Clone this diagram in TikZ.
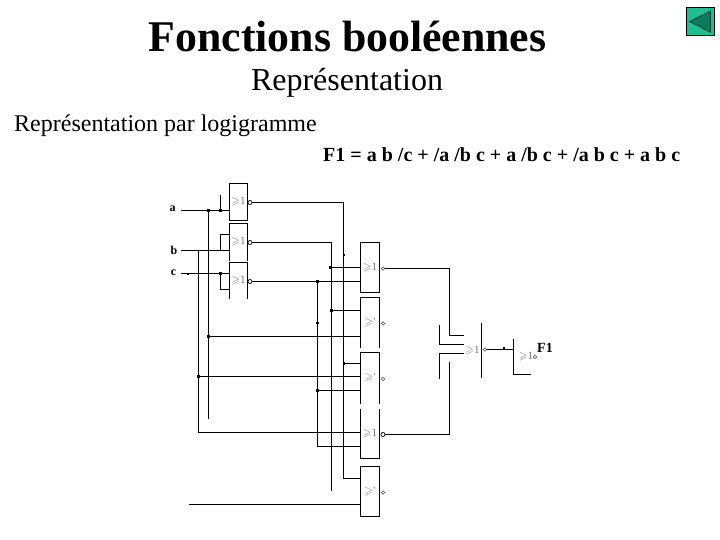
\documentclass[tikz,border=0pt]{standalone}
\usepackage{amssymb}
\usepackage{fontspec}
\setmainfont{Liberation Serif}
\definecolor{btnface}{RGB}{32,190,145}
\definecolor{btnarrow}{RGB}{12,122,92}
\definecolor{btnedge}{RGB}{8,70,50}
\tikzset{
  wire/.style={line width=1.05pt,black},
  gate/.style={inner sep=0pt,outer sep=0pt,minimum width=#1,text=black!55,font=\fontsize{11}{11}\selectfont},
  bubble/.style={circle,draw=black,line width=0.7pt,inner sep=0pt,minimum size=4pt,fill=white},
  faintbubble/.style={circle,draw=black!70,line width=0.6pt,inner sep=0pt,minimum size=3.5pt,fill=white},
  dot/.style={fill=black,inner sep=0pt,minimum size=2.2pt,rectangle},
  pin/.style={font=\fontsize{12}{12}\selectfont\bfseries,inner sep=0pt}
}
\newcommand{\geone}{$\geqslant$1}
\newcommand{\gefade}{$\geqslant$\textquotesingle}
\begin{document}
\begin{tikzpicture}[x=1pt,y=-1pt]
\useasboundingbox (0,0) rectangle (720,540);
\fill[white] (0,0) rectangle (720,540);
% titles
\node[font=\fontsize{43.8}{44}\selectfont\bfseries,inner sep=0pt] (title) at (347.5,36) {Fonctions booléennes};
\node[font=\fontsize{32}{32}\selectfont,inner sep=0pt] (sub) at (347,82.5) {Représentation};
\node[font=\fontsize{24}{24}\selectfont,inner sep=0pt,anchor=west] (head) at (14,126) {Représentation par logigramme};
\node[font=\fontsize{20}{20}\selectfont\bfseries,inner sep=0pt,anchor=west] (formula) at (323,154.5) {F1 = a b /c + /a /b c + a /b c + /a b c + a b c};
% back button
\node[draw=black,line width=1pt,fill=btnface,minimum size=28pt,inner sep=0pt] (back) at (700,21.5) {};
\draw[btnedge,line width=0.8pt,fill=btnarrow] (689.5,21.5) -- (710.5,11) -- (710.5,32.3) -- cycle;
% labels
\node[pin] (a) at (172.5,208.5) {a};
\node[pin] (b) at (174,250) {b};
\node[pin] (c) at (173.5,272.5) {c};
\coordinate (aw) at (181,210.5);
\coordinate (bw) at (181,250.5);
\coordinate (cw) at (181,273.5);
\coordinate (ew) at (188.5,504.5);
% gates
\node[gate=18pt,minimum height=37pt] (g1) at (238.5,202) {\geone};
\node[gate=18pt,minimum height=37pt] (g2) at (238.5,242) {\geone};
\node[gate=18pt,minimum height=36pt] (g3) at (238.5,280.5) {\geone};
\node[gate=19pt,minimum height=50pt] (h1) at (370,267.5) {\geone};
\node[gate=19pt,minimum height=50pt] (h2) at (370,322.5) {\gefade};
\node[gate=19pt,minimum height=51pt] (h3) at (370,378) {\gefade};
\node[gate=19pt,minimum height=50pt] (h4) at (370,433.5) {\geone};
\node[gate=19pt,minimum height=50pt] (h5) at (370,491.5) {\gefade};
\node[gate=18pt,minimum height=55pt] (j1) at (472.5,350.5) {\geone};
\node[gate=17pt,minimum height=36pt] (k1) at (522,356.5) {};
\node[text=black!55,font=\fontsize{11}{11}\selectfont,inner sep=0pt] (k1t) at (526,356.5) {\geone};
\node[font=\fontsize{14}{14}\selectfont\bfseries,inner sep=0pt] (f1) at (545,347.5) {F1};
% gate outlines
\draw[wire] (g1.south west) rectangle (g1.north east);
\draw[wire] (g2.south west) -- (g2.north west) -- (g2.north east) -- (g2.south east);
\draw[wire] (g3.south west) -- (g3.north west) -- (g3.north east) -- (g3.south east);
\draw[wire] (h1.south west) rectangle (h1.north east);
\draw[wire] (h2.south west) -- (h2.north west) -- (h2.north east) -- (h2.south east);
\draw[wire] (h3.south west) -- (h3.north west) -- (h3.north east) -- (h3.south east);
\draw[wire] (h4.north west) -- (h4.south west) -- (h4.south east) -- (h4.north east);
\draw[wire] (h5.south west) rectangle (h5.north east);
\draw[wire] (j1.north east) -- (j1.south east);
\draw[wire] (k1.north west) -- (k1.south west) -- (530.5,374.5);
% inputs of first stage
\draw[wire] (aw) -- (aw -| g1.west);
\draw[wire] (220.5,195) -- (220.5,210.5);
\draw[wire] (bw) -- (bw -| g2.west);
\draw[wire] (220.5,250.5) -- (220.5,234.5) -- (g2.west |- 0,234.5);
\draw[wire] (cw) -- (cw -| g3.west);
\draw[wire] (220.5,273.5) -- (220.5,289.5) -- (g3.west |- 0,289.5);
% rails
\draw[wire] (208.5,210.5) -- (208.5,419);
\draw[wire] (198.5,250.5) -- (198.5,432.5) -- (h4.west |- 0,432.5);
\draw[wire] (250,202.5) -- (343.5,202.5) -- (343.5,478.5) -- (h5.west |- 0,478.5);
\draw[wire] (250,242.5) -- (331.5,242.5) -- (331.5,490.7);
\draw[wire] (250,281.5) -- (h1.west |- 0,281.5);
\draw[wire] (317.5,281.5) -- (317.5,446.5) -- (h4.west |- 0,446.5);
% inputs of second stage
\draw[wire] (330,267.5) -- (h1.west |- 0,267.5);
\draw[wire] (331.5,310.5) -- (h2.west |- 0,310.5);
\draw[wire] (208.5,336.5) -- (h2.west |- 0,336.5);
\draw[wire] (343.5,363.5) -- (h3.west |- 0,363.5);
\draw[wire] (198.5,376.5) -- (h3.west |- 0,376.5);
\draw[wire] (317.5,390.5) -- (h3.west |- 0,390.5);
\draw[wire] (ew) -- (ew -| h5.west);
% third stage
\draw[wire] (385,268.5) -- (449.5,268.5) -- (449.5,335.5) -- (463.5,335.5);
\draw[wire] (439.5,324.5) -- (439.5,344.5) -- (463.5,344.5);
\draw[wire] (439.5,378.5) -- (439.5,353.5) -- (463.5,353.5);
\draw[wire] (385,434.5) -- (449.5,434.5) -- (449.5,361.5);
\draw[wire] (487,349.5) -- (k1.west |- 0,349.5);
% bubbles
\node[bubble] (bg1) at (250,202.5) {};
\node[bubble] (bg2) at (250,242.5) {};
\node[bubble] (bg3) at (250,281.5) {};
\node[faintbubble] (bh1) at (383,268.5) {};
\node[faintbubble] (bh2) at (383,323.5) {};
\node[faintbubble] (bh3) at (383,379) {};
\node[bubble] (bh4) at (383,434.5) {};
\node[faintbubble] (bh5) at (383,492.5) {};
\node[faintbubble] (bj1) at (485,349.5) {};
\node[faintbubble] (bk1) at (535,357) {};
% junction dots
\foreach \p/\n in {208.5/210.5,220.5/210.5,344/255,330/267.5,317.5/281.5,331.5/310.5,317.5/323,208.5/336.5,198.5/376.5,317.5/390.5,344/363.5,220.5/273.5,187.7/274,503.7/348.5}
  \node[dot] at (\p,\n) {};
\end{tikzpicture}
\end{document}
